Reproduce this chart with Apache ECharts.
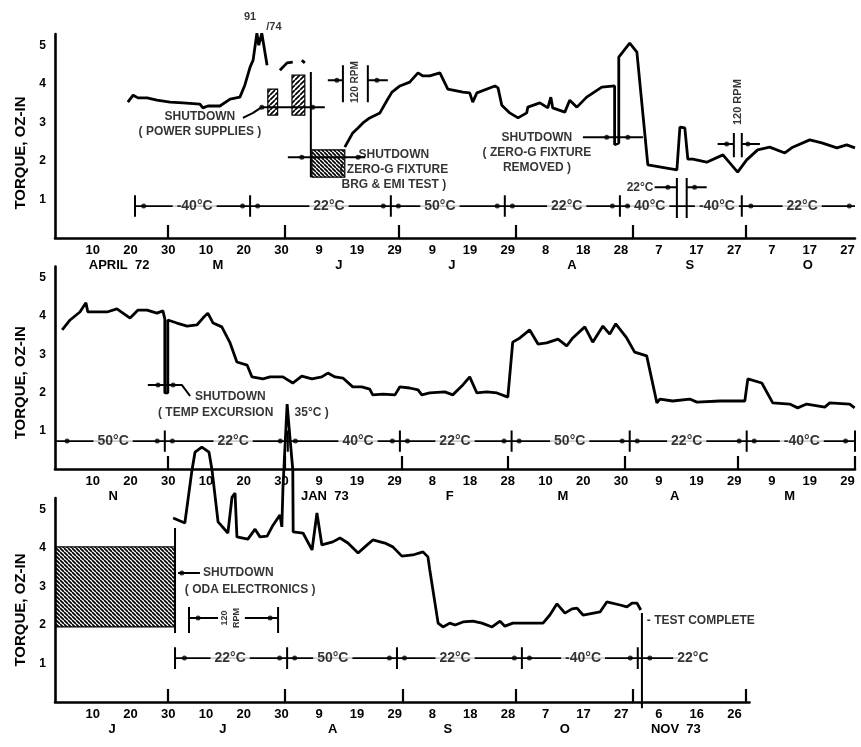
<!DOCTYPE html>
<html>
<head>
<meta charset="utf-8">
<script src="https://cdn.jsdelivr.net/npm/echarts@6/dist/echarts.min.js"></script>
<style>
html, body { margin: 0; padding: 0; background: #fff; }
#chart { width: 861px; height: 747px; }
</style>
</head>
<body>
<div id="chart"></div>
<script>
// 轴承力矩 - 三段时间 (72年4月 ~ 73年11月)

// ---- panel 1 : April - October 1972 ----
var tickDays1 = [10, 20, 30, 40, 50, 60, 70, 80, 90, 100, 110, 120, 130, 140, 150, 160, 170, 180, 190, 200, 210];
var tickText1 = ['10', '20', '30', '10', '20', '30', '9', '19', '29', '9', '19', '29', '8', '18', '28', '7', '17', '27', '7', '17', '27'];
var monthDays1 = [17, 43.2, 75.2, 105.2, 137, 168.2, 199.5];
var monthText1 = ['APRIL  72', 'M', 'J', 'J', 'A', 'S', 'O'];
var monthEnds1 = [30, 61, 91, 122, 153, 183];
var torque1 = [
    [19.3, 3.53], [20.7, 3.71], [22.0, 3.64], [24.4, 3.64], [27.0, 3.58], [30.5, 3.53], [33.9, 3.51],
    [38.4, 3.48], [39.2, 3.38], [40.5, 3.43], [43.7, 3.43], [46.4, 3.61], [49.0, 3.66], [50.3, 3.97],
    [51.7, 4.44], [52.5, 4.62], [53.5, 5.32], [54.0, 5.01], [54.8, 5.32], [56.2, 4.49],
    null,
    [59.6, 4.36], [61.5, 4.55], [63.0, 4.57],
    null,
    [65.4, 4.62], [66.2, 4.55],
    null,
    [76.8, 2.36], [78.9, 2.73], [80.3, 2.86], [81.6, 2.99], [83.4, 3.12], [86.1, 3.25], [88.0, 3.58],
    [89.3, 3.79], [91.4, 3.95], [94.0, 4.05], [96.2, 4.29], [97.5, 4.21], [99.3, 4.21], [102.0, 4.29],
    [104.1, 3.87], [108.1, 3.79], [109.9, 3.77], [110.7, 3.53], [111.8, 3.77], [116.6, 3.95], [117.4, 3.90],
    [118.4, 3.45], [120.5, 3.25], [122.7, 3.12], [125.0, 3.25], [125.3, 3.40], [128.5, 3.51], [130.6, 3.38],
    [131.4, 3.66], [131.9, 3.38], [135.1, 3.27], [136.4, 3.58], [138.3, 3.40], [140.9, 3.66], [144.9, 3.92],
    [148.3, 3.95], [148.3, 2.42], [149.4, 2.47], [149.4, 4.70], [152.3, 5.06], [154.2, 4.83], [157.1, 1.90],
    [164.8, 1.77], [165.6, 2.88], [166.9, 2.86], [167.7, 2.05], [169.0, 2.05], [172.7, 1.97], [177.0, 2.16],
    [180.9, 1.71], [183.3, 2.03], [186.2, 2.29], [189.4, 2.36], [193.4, 2.21], [195.5, 2.36], [200.0, 2.55],
    [203.2, 2.47], [207.2, 2.34], [209.8, 2.42], [212.0, 2.34]
];
var hatch1 = [
    [[56.4, 3.19], [59.0, 3.87]],
    [[62.8, 3.19], [66.2, 4.23]],
    [[68.1, 1.58], [76.8, 2.29]]
];
var guides1 = [
    [[49.8, 3.12], [52.5, 3.25], [54.8, 3.40], [71.5, 3.40]],
    [[67.8, 4.31], [67.8, 1.58]],
    [[61.7, 2.10], [82.2, 2.10]],
    [[72.3, 4.10], [76.3, 4.10]], [[82.9, 4.10], [88.2, 4.10]],
    [[76.3, 4.49], [76.3, 3.53]], [[82.9, 4.49], [82.9, 3.53]],
    [[139.9, 2.62], [155.8, 2.62]],
    [[175.6, 2.44], [179.9, 2.44]], [[182.0, 2.44], [186.8, 2.44]],
    [[179.9, 2.73], [179.9, 2.10]], [[182.0, 2.73], [182.0, 2.10]],
    [[158.9, 1.32], [164.8, 1.32]], [[167.4, 1.32], [172.7, 1.32]],
    [[164.8, 1.56], [164.8, 0.52]], [[167.4, 1.56], [167.4, 0.52]]
];
var guideDots1 = [[54.8, 3.40], [68.3, 3.40], [65.4, 2.10], [80.3, 2.10], [74.7, 4.10], [85.3, 4.10],
    [146.2, 2.62], [151.8, 2.62], [178.0, 2.44], [183.6, 2.44], [162.4, 1.32], [169.5, 1.32]];
var bandSpan1 = [21.2, 212];
var bandEdges1 = [21.2, 51.7, 89, 119.2, 149.7, 182];
var bandDots1 = [23.5, 49.7, 53.7, 87, 91, 117.2, 121.2, 147.7, 151.7, 184.4, 210.5];
var bandDays1 = [37, 72.6, 102, 135.6, 157.6, 175.4, 198];
var bandText1 = ['-40°C', '22°C', '50°C', '22°C', '40°C', '-40°C', '22°C'];
var notes1 = [
    { at: [38.4, 2.96], text: 'SHUTDOWN\n( POWER SUPPLIES )' },
    { at: [89.8, 1.77], text: 'SHUTDOWN\n( ZERO-G FIXTURE\nBRG & EMI TEST )' },
    { at: [127.7, 2.21], text: 'SHUTDOWN\n( ZERO-G FIXTURE\nREMOVED )' },
    { at: [79.6, 4.05], text: '120 RPM', rotate: 90, size: 10 },
    { at: [180.9, 3.53], text: '120 RPM', rotate: 90, size: 11 },
    { at: [158.6, 1.32], text: '22°C', align: 'right' },
    { at: [51.7, 5.74], text: '91', size: 11 },
    { at: [58.0, 5.48], text: '/74', size: 11 }
];

// ---- panel 2 : November 1972 - May 1973 ----
var tickDays2 = [10, 20, 30, 40, 50, 60, 70, 80, 90, 100, 110, 120, 130, 140, 150, 160, 170, 180, 190, 200, 210];
var tickText2 = ['10', '20', '30', '10', '20', '30', '9', '19', '29', '8', '18', '28', '10', '20', '30', '9', '19', '29', '9', '19', '29'];
var monthDays2 = [15.4, 71.5, 104.6, 134.6, 164.2, 194.7];
var monthText2 = ['N', 'JAN  73', 'F', 'M', 'A', 'M'];
var monthEnds2 = [30, 61, 92, 120, 151, 181, 212];
var torque2 = [
    [1.9, 3.64], [4.0, 3.90], [6.6, 4.11], [8.2, 4.35], [8.7, 4.11], [11.9, 4.11], [13.8, 4.11], [16.4, 4.19],
    [19.9, 3.95], [22.0, 4.16], [24.4, 4.16], [27.0, 4.08], [28.6, 4.14], [29.1, 3.93], [29.1, 1.99],
    [29.9, 1.99], [29.9, 3.90], [32.3, 3.82], [35.0, 3.74], [37.6, 3.77], [39.2, 3.95], [40.5, 4.08],
    [41.9, 3.82], [44.2, 3.72], [46.4, 3.30], [48.2, 2.80], [50.9, 2.72], [52.2, 2.41], [55.1, 2.36],
    [57.0, 2.41], [60.4, 2.41], [63.0, 2.25], [65.4, 2.43], [68.1, 2.36], [70.7, 2.41], [72.3, 2.51],
    [74.2, 2.41], [76.3, 2.38], [78.9, 2.15], [81.3, 2.15], [83.4, 2.09], [84.2, 1.94], [86.9, 1.96],
    [90.1, 1.94], [91.4, 2.15], [94.0, 2.12], [96.2, 2.07], [97.2, 1.94], [99.3, 1.99], [103.3, 2.02],
    [105.4, 1.94], [107.8, 2.17], [109.9, 2.41], [111.8, 1.99], [114.4, 2.02], [117.1, 1.99], [120.0, 1.88],
    [121.3, 3.32], [123.2, 3.43], [125.8, 3.64], [128.0, 3.27], [130.3, 3.30], [133.3, 3.40], [135.6, 3.22],
    [137.2, 3.43], [140.4, 3.72], [142.5, 3.32], [145.2, 3.74], [147.0, 3.53], [148.6, 3.80], [151.5, 3.43],
    [153.6, 3.06], [156.8, 2.96], [159.5, 1.73], [160.3, 1.83], [163.7, 1.78], [168.2, 1.83], [170.1, 1.75],
    [176.2, 1.78], [182.8, 1.78], [183.6, 2.36], [187.3, 2.25], [190.2, 1.73], [194.7, 1.70], [196.8, 1.60],
    [199.2, 1.70], [204.0, 1.62], [205.3, 1.73], [210.6, 1.70], [211.9, 1.60]
];
var hatch2 = [];
var guides2 = [
    [[24.6, 2.20], [33.6, 2.20], [35.8, 1.91]]
];
var guideDots2 = [[27.3, 2.20], [31.3, 2.20]];
var bandSpan2 = [0, 212];
var bandEdges2 = [29.1, 61.7, 91.4, 121, 152.3, 183.3, 212];
var bandDots2 = [3.2, 27.1, 31.1, 59.7, 63.7, 89.4, 93.4, 119, 123, 150.3, 154.3, 181.3, 185.3, 209.5];
var bandDays2 = [15.4, 47.2, 80.3, 106, 136.4, 167.4, 197.9];
var bandText2 = ['50°C', '22°C', '40°C', '22°C', '50°C', '22°C', '-40°C'];
var notes2 = [
    { at: [37.1, 1.88], text: 'SHUTDOWN', align: 'left' },
    { at: [27.3, 1.47], text: '( TEMP EXCURSION', align: 'left' },
    { at: [63.5, 1.47], text: '35°C )', align: 'left' }
];

// ---- panel 3 : June - November 1973 ----
var tickDays3 = [10, 20, 30, 40, 50, 60, 70, 80, 90, 100, 110, 120, 130, 140, 150, 160, 170, 180];
var tickText3 = ['10', '20', '30', '10', '20', '30', '9', '19', '29', '8', '18', '28', '7', '17', '27', '6', '16', '26'];
var monthDays3 = [15.1, 44.5, 73.6, 104.1, 135.1, 164.5];
var monthText3 = ['J', 'J', 'A', 'S', 'O', 'NOV  73'];
var monthEnds3 = [30, 61, 92, 122, 153, 183];
var torque3 = [
    [31.3, 4.78], [34.4, 4.65], [36.3, 6.03], [37.1, 6.49], [38.9, 6.62], [40.8, 6.49], [41.6, 6.03],
    [43.2, 4.68], [45.8, 4.39], [46.9, 5.32], [47.7, 5.43], [48.2, 4.29], [51.1, 4.23], [53.0, 4.49],
    [54.3, 4.29], [56.2, 4.31], [57.8, 4.60], [59.6, 4.86], [60.1, 4.55], [60.4, 5.58], [61.5, 7.74],
    [62.3, 6.81], [63.0, 6.03], [63.1, 4.42], [65.7, 4.39], [68.1, 3.95], [69.4, 4.91], [70.7, 4.08],
    [73.6, 4.16], [75.5, 4.26], [77.6, 4.13], [80.3, 3.87], [82.1, 4.03], [84.2, 4.21], [87.4, 4.13],
    [89.5, 4.03], [91.9, 3.79], [94.8, 3.82], [97.5, 3.90], [98.8, 3.77], [99.3, 3.43], [101.5, 2.05],
    [102.8, 1.95], [104.6, 2.05], [106.0, 2.00], [108.1, 2.08], [110.7, 2.10], [113.1, 2.05], [115.8, 1.95],
    [117.9, 2.10], [119.2, 1.97], [121.3, 2.05], [125.0, 2.05], [129.3, 2.05], [131.1, 2.26], [133.0, 2.55],
    [135.1, 2.31], [137.0, 2.42], [138.3, 2.44], [139.9, 2.26], [144.4, 2.34], [146.2, 2.60], [149.7, 2.52],
    [151.5, 2.47], [152.9, 2.57], [154.2, 2.57], [155.2, 2.39]
];
var hatch3 = [
    [[0.3, 1.95], [31.8, 4.03]]
];
var guides3 = [
    [[31.8, 4.52], [31.8, 1.79]],
    [[32.6, 3.35], [38.4, 3.35]],
    [[35.5, 2.47], [35.5, 1.79]], [[59.1, 2.47], [59.1, 1.79]],
    [[35.5, 2.18], [43.2, 2.18]], [[50.3, 2.18], [59.1, 2.18]],
    [[155.5, 2.31], [155.5, -0.16]]
];
var guideDots3 = [[33.6, 3.35], [37.9, 2.18], [57.0, 2.18]];
var bandSpan3 = [31.8, 165];
var bandEdges3 = [31.8, 61.5, 90.6, 123.7, 154.4];
var bandDots3 = [34.3, 59.5, 63.5, 88.6, 92.6, 121.7, 125.7, 152.4, 157.6];
var bandDays3 = [46.4, 73.6, 106, 139.9, 169];
var bandText3 = ['22°C', '50°C', '22°C', '-40°C', '22°C'];
var notes3 = [
    { at: [39.2, 3.35], text: 'SHUTDOWN', align: 'left' },
    { at: [51.7, 2.91], text: '( ODA ELECTRONICS )' },
    { at: [46.4, 2.18], text: '120\nRPM', rotate: 90, size: 9 },
    { at: [156.8, 2.10], text: '- TEST COMPLETE', align: 'left' }
];

var FONT = "'Liberation Sans', Arial, sans-serif";

function makeHatch(step, lw, forward) {
    var c = document.createElement('canvas');
    c.width = step;
    c.height = step;
    var g = c.getContext('2d');
    g.fillStyle = '#fff';
    g.fillRect(0, 0, step, step);
    g.strokeStyle = '#000';
    g.lineWidth = lw;
    g.beginPath();
    for (var k = -1; k <= 1; k++) {
        if (forward) {
            g.moveTo(k * step, step);
            g.lineTo(k * step + step, 0);
        } else {
            g.moveTo(k * step, 0);
            g.lineTo(k * step + step, step);
        }
    }
    g.stroke();
    return { image: c, repeat: 'repeat' };
}

function joinSegments(segs) {
    var out = [];
    segs.forEach(function (s, i) {
        if (i > 0) out.push(null);
        s.forEach(function (p) { out.push(p); });
    });
    return out;
}

var panels = [
    {
        torque: torque1, ticks: tickDays1, tickText: tickText1, months: monthDays1, monthText: monthText1,
        monthEnds: monthEnds1, hatch: hatch1, hatchFwd: [true, true, false], guides: guides1, guideDots: guideDots1,
        bandSpan: bandSpan1, bandEdges: bandEdges1, bandDots: bandDots1, bandDays: bandDays1, bandText: bandText1,
        notes: notes1, max: 212, band: 0.83, namePad: 34,
        grid: { left: 55, top: 34, width: 800, height: 204 }
    },
    {
        torque: torque2, ticks: tickDays2, tickText: tickText2, months: monthDays2, monthText: monthText2,
        monthEnds: monthEnds2, hatch: hatch2, hatchFwd: [], guides: guides2, guideDots: guideDots2,
        bandSpan: bandSpan2, bandEdges: bandEdges2, bandDots: bandDots2, bandDays: bandDays2, bandText: bandText2,
        notes: notes2, max: 212, band: 0.73, namePad: 30,
        grid: { left: 55, top: 266.5, width: 800, height: 202.5 }
    },
    {
        torque: torque3, ticks: tickDays3, tickText: tickText3, months: monthDays3, monthText: monthText3,
        monthEnds: monthEnds3, hatch: hatch3, hatchFwd: [false], guides: guides3, guideDots: guideDots3,
        bandSpan: bandSpan3, bandEdges: bandEdges3, bandDots: bandDots3, bandDays: bandDays3, bandText: bandText3,
        notes: notes3, max: 184, band: 1.14, namePad: 20,
        grid: { left: 55, top: 498, width: 694.5, height: 204 }
    }
];

var grids = [], xAxes = [], monthAxes = [], yAxes = [], series = [];

panels.forEach(function (p, i) {
    grids.push(p.grid);

    xAxes.push({
        type: 'value', gridIndex: i, min: 0, max: p.max,
        axisLine: { show: true, onZero: false, lineStyle: { color: '#000', width: 2.6 } },
        axisTick: { show: true, customValues: p.monthEnds, inside: true, length: 13, lineStyle: { color: '#000', width: 2.2 } },
        axisLabel: {
            customValues: p.ticks, margin: 6, color: '#000', fontFamily: FONT, fontWeight: 'bold', fontSize: 13,
            formatter: (function (days, txt) {
                return function (v) { var k = days.indexOf(v); return k < 0 ? '' : txt[k]; };
            })(p.ticks, p.tickText)
        },
        splitLine: { show: false }
    });

    monthAxes.push({
        type: 'value', gridIndex: i, min: 0, max: p.max, position: 'bottom', offset: 15,
        axisLine: { show: false }, axisTick: { show: false }, splitLine: { show: false },
        axisLabel: {
            customValues: p.months, margin: 6, color: '#000', fontFamily: FONT, fontWeight: 'bold', fontSize: 13,
            formatter: (function (days, txt) {
                return function (v) { var k = days.indexOf(v); return k < 0 ? '' : txt[k]; };
            })(p.months, p.monthText)
        }
    });

    yAxes.push({
        type: 'value', gridIndex: i, min: 0, max: 5.3,
        name: 'TORQUE, OZ-IN', nameLocation: 'middle', nameGap: 27,
        nameTextStyle: { color: '#000', fontFamily: FONT, fontWeight: 'bold', fontSize: 15, padding: [0, p.namePad, 0, 0] },
        axisLine: { show: true, lineStyle: { color: '#000', width: 2.6 } },
        axisTick: { show: false },
        axisLabel: { customValues: [1, 2, 3, 4, 5], margin: 9, color: '#000', fontFamily: FONT, fontWeight: 'bold', fontSize: 12 },
        splitLine: { show: false }
    });

    // 力矩曲线
    series.push({
        type: 'line', xAxisIndex: i, yAxisIndex: i, data: p.torque, symbol: 'none', clip: false,
        connectNulls: false, lineStyle: { color: '#000', width: 2.8 }, z: 5, silent: true,
        markArea: {
            silent: true,
            data: p.hatch.map(function (a, k) {
                return [{ coord: a[0], itemStyle: { color: makeHatch(p.hatchFwd[k] ? 5 : 4, 1.7, p.hatchFwd[k]), borderColor: '#000', borderWidth: 1.2 } },
                    { coord: a[1] }];
            })
        }
    });

    // shutdown 标注线
    series.push({
        type: 'line', xAxisIndex: i, yAxisIndex: i, data: joinSegments(p.guides), symbol: 'none', clip: false,
        connectNulls: false, lineStyle: { color: '#000', width: 2 }, z: 4, silent: true
    });
    series.push({
        type: 'scatter', xAxisIndex: i, yAxisIndex: i, data: p.guideDots, symbolSize: 5, clip: false,
        itemStyle: { color: '#000' }, z: 4, silent: true
    });

    // 温度段
    series.push({
        type: 'line', xAxisIndex: i, yAxisIndex: i, symbol: 'none', clip: false, silent: true, z: 2,
        data: [[p.bandSpan[0], p.band], [p.bandSpan[1], p.band]],
        lineStyle: { color: '#000', width: 1.8 }
    });
    series.push({
        type: 'line', xAxisIndex: i, yAxisIndex: i, symbol: 'none', clip: false, silent: true, z: 2,
        connectNulls: false,
        data: joinSegments(p.bandEdges.map(function (e) { return [[e, p.band - 0.28], [e, p.band + 0.28]]; })),
        lineStyle: { color: '#000', width: 2 }
    });
    series.push({
        type: 'scatter', xAxisIndex: i, yAxisIndex: i, symbolSize: 5, clip: false, silent: true, z: 2,
        data: p.bandDots.map(function (d) { return [d, p.band]; }),
        itemStyle: { color: '#000' }
    });
    series.push({
        type: 'scatter', xAxisIndex: i, yAxisIndex: i, symbolSize: 0, clip: false, silent: true, z: 3,
        data: p.bandDays.map(function (d, k) {
            return { value: [d, p.band], label: { formatter: p.bandText[k] } };
        }),
        label: {
            show: true, position: 'inside', color: '#000', fontFamily: FONT, fontWeight: 'bold', fontSize: 14,
            backgroundColor: '#fff', padding: [1, 4]
        }
    });

    // 文字说明
    series.push({
        type: 'scatter', xAxisIndex: i, yAxisIndex: i, symbolSize: 0, clip: false, silent: true, z: 6,
        data: p.notes.map(function (n) {
            return {
                value: n.at,
                label: {
                    formatter: n.text, rotate: n.rotate || 0, align: n.align || 'center',
                    fontSize: n.size || 12, lineHeight: (n.size || 12) + 3
                }
            };
        }),
        label: { show: true, position: 'inside', color: '#000', fontFamily: FONT, fontWeight: 'bold', verticalAlign: 'middle' }
    });
});

var chart = echarts.init(document.getElementById('chart'));
chart.setOption({
    backgroundColor: '#fff',
    animation: false,
    grid: grids,
    xAxis: xAxes.concat(monthAxes),
    yAxis: yAxes,
    series: series
});
</script>
</body>
</html>
